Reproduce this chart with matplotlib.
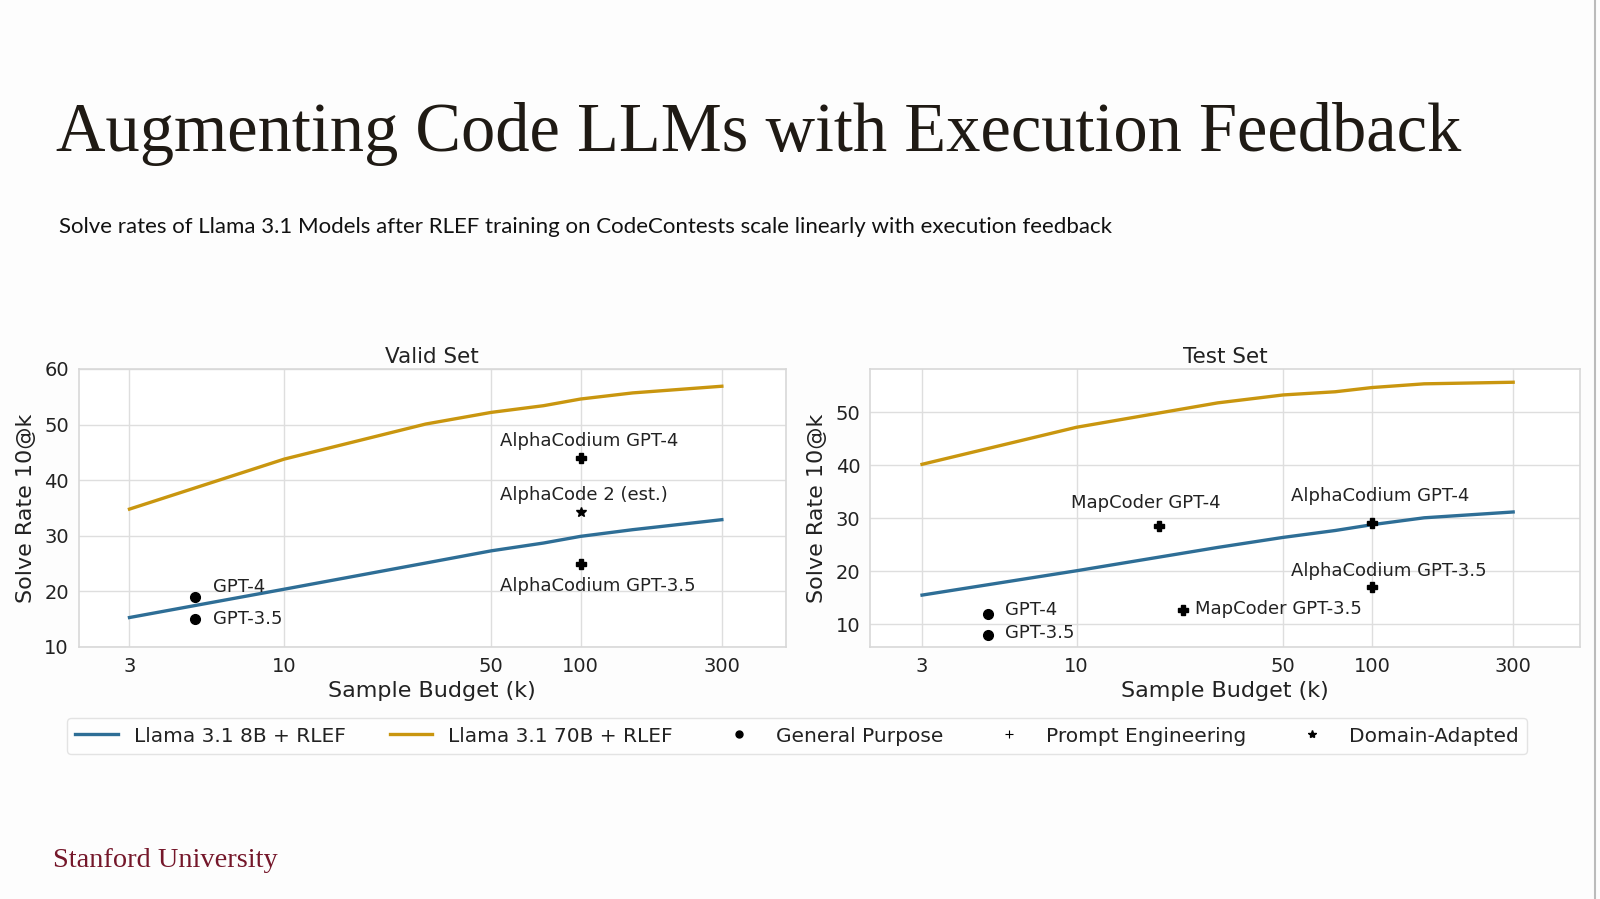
import matplotlib
matplotlib.use("Agg")
import matplotlib.pyplot as plt
from matplotlib.lines import Line2D
from matplotlib.ticker import FixedLocator, NullLocator, FixedFormatter

# Slide text
slide_title = "Augmenting Code LLMs with Execution Feedback"
slide_subtitle = ("Solve rates of Llama 3.1 Models after RLEF training on CodeContests "
                  "scale linearly with execution feedback")
footer = "Stanford University"

# Curves (sample budget k vs solve rate 10@k)
budget = [3, 10, 30, 50, 75, 100, 150, 300]
valid_8b = [15.3, 20.4, 25.1, 27.3, 28.7, 29.9, 31.1, 32.9]
valid_70b = [34.8, 43.8, 50.1, 52.2, 53.4, 54.6, 55.7, 56.9]
test_8b = [15.5, 20.1, 24.5, 26.4, 27.7, 28.8, 30.1, 31.2]
test_70b = [40.2, 47.2, 51.8, 53.3, 53.9, 54.7, 55.4, 55.7]

# Baselines
valid_names = ["GPT-4", "GPT-3.5", "AlphaCodium GPT-4", "AlphaCode 2 (est.)", "AlphaCodium GPT-3.5"]
valid_k = [5, 5, 100, 100, 100]
valid_rate = [19.0, 15.0, 44.0, 34.2, 25.0]
valid_kind = ["general", "general", "prompt", "domain", "prompt"]

test_names = ["GPT-4", "GPT-3.5", "MapCoder GPT-4", "MapCoder GPT-3.5",
              "AlphaCodium GPT-4", "AlphaCodium GPT-3.5"]
test_k = [5, 5, 19, 23, 100, 100]
test_rate = [12.0, 8.0, 28.5, 12.7, 29.1, 17.0]
test_kind = ["general", "general", "prompt", "prompt", "prompt", "prompt"]

xticks = [3, 10, 50, 100, 300]

# label offsets in pixels (layout only)
valid_offsets = [(18, 10), (18, 0), (-81, 17), (-81, 17), (-81, -22)]
test_offsets = [(17, 4), (17, 2), (-88, 23), (12, 1), (-81, 27), (-81, 16)]

BLUE = "#2e6e96"
GOLD = "#c9960f"
markers = {"general": "o", "prompt": "P", "domain": "*"}
msizes = {"general": 7, "prompt": 7.5, "domain": 7.5}

plt.rcParams["font.family"] = "DejaVu Sans"

fig = plt.figure(figsize=(16, 8.99), dpi=100)
fig.patch.set_facecolor("#fdfdfd")


def fit_text(x, y, s, target_px, size, **kw):
    t = fig.text(x, y, s, fontsize=size, **kw)
    r = fig.canvas.get_renderer()
    w = t.get_window_extent(renderer=r).width
    t.set_fontsize(size * target_px / w)
    return t


fit_text(56 / 1600, 1 - 151 / 899, slide_title, 1408, 50,
         family="Liberation Serif", color="#1f1a14", va="baseline")
fit_text(59 / 1600, 1 - 233 / 899, slide_subtitle, 1053, 16,
         family="Lato", color="#111111", va="baseline")
fit_text(53 / 1600, 1 - 867 / 899, footer, 225, 18,
         family="Liberation Serif", color="#75172a", va="baseline")

fig.add_artist(Line2D([0.997, 0.997], [0, 1], transform=fig.transFigure,
                      color="#bbbbbb", lw=1.5))


def draw_panel(ax, title, c8, c70, names, ks, rates, kinds, offsets, xlim, ylim, yticks):
    ax.set_facecolor("white")
    ax.plot(budget, c8, color=BLUE, lw=2.4, zorder=3)
    ax.plot(budget, c70, color=GOLD, lw=2.4, zorder=3)
    for name, k, r, kind, off in zip(names, ks, rates, kinds, offsets):
        ax.plot([k], [r], marker=markers[kind], ms=msizes[kind], color="black",
                ls="none", zorder=4)
        ax.annotate(name, (k, r), xytext=off, textcoords="offset pixels",
                    ha="left", va="center", fontsize=13, color="#222222", zorder=5)
    ax.set_xscale("log")
    ax.set_xlim(*xlim)
    ax.set_ylim(*ylim)
    ax.xaxis.set_major_locator(FixedLocator(xticks))
    ax.xaxis.set_major_formatter(FixedFormatter([str(v) for v in xticks]))
    ax.xaxis.set_minor_locator(NullLocator())
    ax.set_yticks(yticks)
    ax.grid(True, color="#dedede", lw=1)
    ax.set_axisbelow(True)
    for sp in ax.spines.values():
        sp.set_color("#d8d8d8")
        sp.set_linewidth(1.2)
    ax.tick_params(length=0, labelsize=14, pad=7, labelcolor="#222222")
    ax.set_title(title, fontsize=15.5, pad=4, color="#222222")
    ax.set_xlabel("Sample Budget (k)", fontsize=16, labelpad=4, color="#222222")
    ax.set_ylabel("Solve Rate 10@k", fontsize=16, labelpad=6, color="#222222")


ax1 = fig.add_axes([78.6 / 1600, 1 - 647 / 899, (786 - 78.6) / 1600, (647 - 369) / 899])
ax2 = fig.add_axes([870 / 1600, 1 - 647 / 899, (1580 - 870) / 1600, (647 - 369) / 899])

draw_panel(ax1, "Valid Set", valid_8b, valid_70b, valid_names, valid_k, valid_rate,
           valid_kind, valid_offsets, (2.02, 494), (10, 60), [10, 20, 30, 40, 50, 60])
draw_panel(ax2, "Test Set", test_8b, test_70b, test_names, test_k, test_rate,
           test_kind, test_offsets, (2.0, 505), (5.7, 58.2), [10, 20, 30, 40, 50])

handles = [
    Line2D([], [], color=BLUE, lw=2.4),
    Line2D([], [], color=GOLD, lw=2.4),
    Line2D([], [], color="black", marker="o", ms=5, ls="none"),
    Line2D([], [], color="black", marker="+", ms=6, mew=0.8, ls="none"),
    Line2D([], [], color="black", marker="*", ms=6, ls="none"),
]
labels = ["Llama 3.1 8B + RLEF", "Llama 3.1 70B + RLEF", "General Purpose",
          "Prompt Engineering", "Domain-Adapted"]
leg = fig.legend(handles, labels, loc="center", bbox_to_anchor=(797 / 1600, 1 - 736 / 899),
                 ncol=5, fontsize=14.5, frameon=True, fancybox=True,
                 edgecolor="#dddddd", columnspacing=2.2, handlelength=2.1)
for t in leg.get_texts():
    t.set_color("#222222")

fig.savefig("out.png", dpi=100, facecolor=fig.get_facecolor())
